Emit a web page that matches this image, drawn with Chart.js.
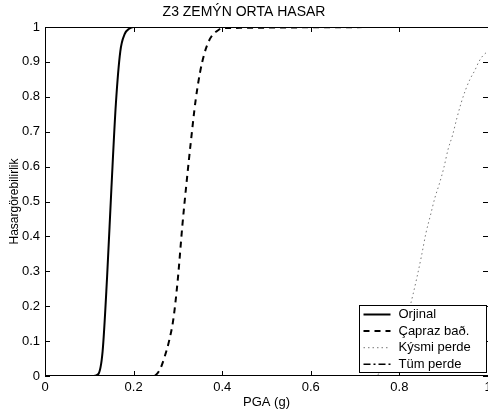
<!DOCTYPE html>
<html>
<head>
<meta charset="utf-8">
<script src="https://cdn.jsdelivr.net/npm/chart.js@4"></script>
<style>
body{margin:0;background:#fff;overflow:hidden}
#wrap{width:488px;height:414px}
</style>
</head>
<body>
<div id="wrap"><canvas id="c"></canvas></div>
<script>
const seriesNames = ['Orjinal', 'Çapraz bað.', 'Kýsmi perde', 'Tüm perde'];

const orjinalPga = [0, 0.11, 0.12, 0.13, 0.14, 0.15, 0.16, 0.17, 0.18, 0.19, 0.20, 1.0];
const orjinalProb = [0, 0, 0.005, 0.07, 0.28, 0.54, 0.78, 0.93, 0.98, 0.995, 1, 1];

const caprazPga = [0, 0.24, 0.25, 0.26, 0.27, 0.28, 0.29, 0.30, 0.31, 0.32, 0.33, 0.34, 0.35, 0.36, 0.37, 0.38, 0.39, 0.40, 1.0];
const caprazProb = [0, 0, 0.003, 0.02, 0.055, 0.10, 0.165, 0.28, 0.43, 0.56, 0.68, 0.79, 0.87, 0.925, 0.96, 0.98, 0.99, 0.997, 1];

const kismiPga = [0, 0.74, 0.75, 0.76, 0.77, 0.78, 0.79, 0.80, 0.81, 0.82, 0.83, 0.84, 0.85, 0.86, 0.87, 0.88, 0.89, 0.90, 0.91, 0.92, 0.93, 0.94, 0.95, 0.96, 0.97, 0.98, 0.99, 1.0];
const kismiProb = [0, 0, 0.004, 0.01, 0.022, 0.04, 0.065, 0.095, 0.135, 0.18, 0.23, 0.285, 0.345, 0.41, 0.46, 0.51, 0.55, 0.595, 0.65, 0.69, 0.74, 0.785, 0.822, 0.852, 0.875, 0.902, 0.92, 0.93];

const tumPga = [0, 1.0];
const tumProb = [0, 0];

const xTicks = [0, 0.2, 0.4, 0.6, 0.8, 1];
const yTicks = [0, 0.1, 0.2, 0.3, 0.4, 0.5, 0.6, 0.7, 0.8, 0.9, 1];

function pairs(xs, ys){
	return xs.map((x, i) => ({x: x, y: ys[i]}));
}

const fontName = '"Liberation Sans", Arial, sans-serif';

// matlab style frame with inward ticks
const frameTicks = {
	id: 'frameTicks',
	afterDatasetsDraw(chart){
		const ctx = chart.ctx;
		const a = chart.chartArea;
		ctx.save();
		ctx.strokeStyle = '#000';
		ctx.lineWidth = 1;
		ctx.setLineDash([]);
		ctx.beginPath();
		ctx.moveTo(a.left + 0.5, a.top + 0.5);
		ctx.lineTo(a.right + 0.5, a.top + 0.5);
		ctx.moveTo(a.left + 0.5, a.top);
		ctx.lineTo(a.left + 0.5, a.bottom);
		ctx.moveTo(a.left, a.bottom - 0.5);
		ctx.lineTo(a.right + 1, a.bottom - 0.5);
		ctx.moveTo(a.right + 0.5, a.top);
		ctx.lineTo(a.right + 0.5, a.bottom);
		const xs = chart.scales.x;
		xs.ticks.forEach(t => {
			const px = Math.round(xs.getPixelForValue(t.value)) + 0.5;
			ctx.moveTo(px, a.bottom);
			ctx.lineTo(px, a.bottom - 5);
			ctx.moveTo(px, a.top);
			ctx.lineTo(px, a.top + 5);
		});
		const ys = chart.scales.y;
		ys.ticks.forEach(t => {
			const py = Math.round(ys.getPixelForValue(t.value)) + 0.5;
			ctx.moveTo(a.left, py);
			ctx.lineTo(a.left + 5, py);
			ctx.moveTo(a.right, py);
			ctx.lineTo(a.right - 5, py);
		});
		ctx.stroke();
		ctx.restore();
	}
};

// legend box inside the axes, lower right
const legendBox = {
	id: 'legendBox',
	afterDatasetsDraw(chart){
		const ctx = chart.ctx;
		const a = chart.chartArea;
		const w = 127, h = 67;
		const x0 = a.right - 2 - w + 0.5;
		const y0 = a.bottom - 4 - h + 0.5;
		ctx.save();
		ctx.fillStyle = '#fff';
		ctx.fillRect(x0, y0, w, h);
		ctx.strokeStyle = '#000';
		ctx.lineWidth = 1;
		ctx.setLineDash([]);
		ctx.strokeRect(x0, y0, w, h);
		ctx.font = '13px ' + fontName;
		ctx.textBaseline = 'middle';
		ctx.textAlign = 'left';
		chart.data.datasets.forEach((ds, i) => {
			const yy = y0 + 9 + i * 16.6;
			ctx.strokeStyle = ds.borderColor;
			ctx.lineWidth = ds.borderWidth;
			ctx.setLineDash(ds.borderDash || []);
			ctx.beginPath();
			ctx.moveTo(x0 + 4, yy);
			ctx.lineTo(x0 + 31, yy);
			ctx.stroke();
			ctx.fillStyle = '#000';
			ctx.fillText(ds.label, x0 + 39, yy);
		});
		ctx.restore();
	}
};

new Chart(document.getElementById('c'), {
	type: 'line',
	data: {
		datasets: [
			{label: seriesNames[0], data: pairs(orjinalPga, orjinalProb), borderColor: '#000', borderWidth: 2},
			{label: seriesNames[1], data: pairs(caprazPga, caprazProb), borderColor: '#000', borderWidth: 2, borderDash: [6, 5]},
			{label: seriesNames[2], data: pairs(kismiPga, kismiProb), borderColor: '#777', borderWidth: 1, borderDash: [1.5, 3]},
			{label: seriesNames[3], data: pairs(tumPga, tumProb), borderColor: '#000', borderWidth: 1.5, borderDash: [7, 3, 2, 3]}
		]
	},
	options: {
		responsive: true,
		maintainAspectRatio: false,
		animation: false,
		layout: {padding: 0},
		elements: {
			point: {radius: 0},
			line: {cubicInterpolationMode: 'monotone', fill: false}
		},
		plugins: {
			legend: {display: false},
			tooltip: {enabled: false},
			title: {
				display: true,
				text: 'Z3 ZEMÝN ORTA HASAR',
				color: '#000',
				font: {family: fontName, size: 14, weight: 'normal', lineHeight: 1.2},
				padding: {top: 4, bottom: 6.2}
			}
		},
		scales: {
			x: {
				type: 'linear',
				min: 0,
				max: 1,
				afterBuildTicks: scale => { scale.ticks = xTicks.map(v => ({value: v})); },
				ticks: {color: '#000', padding: 4, maxRotation: 0, font: {family: fontName, size: 13}, callback: v => String(v)},
				grid: {display: true, drawOnChartArea: false, drawTicks: false},
				border: {display: false},
				title: {display: true, text: 'PGA (g)', color: '#000', font: {family: fontName, size: 13}, padding: {top: 0, bottom: 4}},
				afterFit: scale => { scale.height = 38; scale.paddingLeft = 0; scale.paddingRight = 0; }
			},
			y: {
				type: 'linear',
				min: 0,
				max: 1,
				afterBuildTicks: scale => { scale.ticks = yTicks.map(v => ({value: v})); },
				ticks: {color: '#000', padding: 5, font: {family: fontName, size: 13}, callback: v => String(v)},
				grid: {display: true, drawOnChartArea: false, drawTicks: false},
				border: {display: false},
				title: {display: true, text: 'Hasargörebilirlik', color: '#000', font: {family: fontName, size: 12}, padding: {top: 7, bottom: 0}},
				afterFit: scale => { scale.width = 45; scale.paddingTop = 0; scale.paddingBottom = 0; }
			}
		}
	},
	plugins: [frameTicks, legendBox]
});
</script>
</body>
</html>
